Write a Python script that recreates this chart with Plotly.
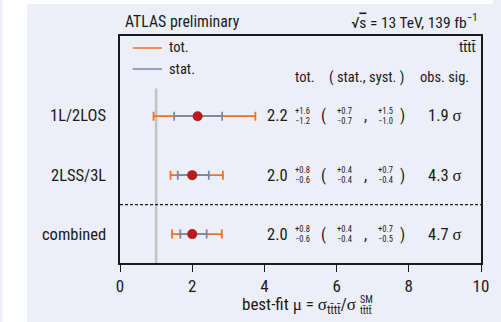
import plotly.graph_objects as go

# ---------------- data ----------------
channels = ["combined", "2LSS/3L", "1L/2LOS"]
mu = [2.0, 2.0, 2.15]
tot_lo = [0.56, 0.6, 1.22]
tot_hi = [0.82, 0.85, 1.6]
stat_lo = [0.33, 0.4, 0.65]
stat_hi = [0.4, 0.46, 0.68]
lbl_mu = ["2.0", "2.0", "2.2"]
lbl_tot = [("+0.8", "−0.6"), ("+0.8", "−0.6"), ("+1.6", "−1.2")]
lbl_stat = [("+0.4", "−0.4"), ("+0.4", "−0.4"), ("+0.7", "−0.7")]
lbl_syst = [("+0.7", "−0.5"), ("+0.7", "−0.4"), ("+1.5", "−1.0")]
lbl_sig = ["4.7", "4.3", "1.9"]
x_ticks = [0, 2, 4, 6, 8, 10]
sm_value = 1.0

# ---------------- style ----------------
W, H = 501, 322
L, R, T, B = 120, 12, 36, 59
PW, PH = W - L - R, H - T - B
BG = "#eceff8"
ORANGE = "#f2711c"
STATC = "#7787a6"
DOT = "#b71c1c"
INK = "#1a1a1a"
FONT = "Liberation Sans Narrow, Roboto Condensed, Roboto, sans-serif"
SERIF = "Liberation Serif, DejaVu Serif, serif"


def px(x):
    return (x - L) / PW


def py(y):
    return (H - B - y) / PH


ypos = list(range(len(channels)))

fig = go.Figure()
fig.add_trace(go.Scatter(
    x=mu, y=ypos, mode="markers",
    marker=dict(size=1, color="rgba(0,0,0,0)"),
    error_x=dict(type="data", symmetric=False, array=tot_hi, arrayminus=tot_lo,
                 color=ORANGE, thickness=1.8, width=4.5),
    hoverinfo="skip", showlegend=False))
fig.add_trace(go.Scatter(
    x=mu, y=ypos, mode="markers",
    marker=dict(size=10, color=DOT),
    error_x=dict(type="data", symmetric=False, array=stat_hi, arrayminus=stat_lo,
                 color=STATC, thickness=1.8, width=4.5),
    hoverinfo="skip", showlegend=False))

shapes = []
# SM line
shapes.append(dict(type="line", xref="x", yref="y", x0=sm_value, x1=sm_value,
                   y0=-0.49, y1=2.47, line=dict(color="#c3c3c6", width=2.5), layer="below"))
# dashed separator
shapes.append(dict(type="line", xref="paper", yref="y", x0=0, x1=1, y0=0.5, y1=0.5,
                   line=dict(color=INK, width=1.2, dash="3px,2px")))
# legend lines
shapes.append(dict(type="line", xref="paper", yref="paper", x0=px(133), x1=px(163),
                   y0=py(48), y1=py(48), line=dict(color=ORANGE, width=1.5)))
shapes.append(dict(type="line", xref="paper", yref="paper", x0=px(133), x1=px(163),
                   y0=py(69), y1=py(69), line=dict(color=STATC, width=1.5)))
# white page margins around the panel
shapes.append(dict(type="rect", xref="paper", yref="paper", x0=px(0), x1=px(25),
                   y0=py(H), y1=py(0), fillcolor="white", line=dict(width=0), layer="below"))
shapes.append(dict(type="rect", xref="paper", yref="paper", x0=px(0), x1=px(W),
                   y0=py(4), y1=py(0), fillcolor="white", line=dict(width=0), layer="below"))

ann = []


def text(x, y, s, size=16, xa="center", family=FONT, color=INK):
    ann.append(dict(xref="paper", yref="paper", x=px(x), y=py(y), text=s, showarrow=False,
                    xanchor=xa, yanchor="middle", font=dict(family=family, size=size, color=color)))


def stack(x, y, top, bot, size=8.5):
    text(x, y - 5, top, size=size)
    text(x, y + 5, bot, size=size)


text(123, 22, "ATLAS preliminary", 15.8, "left")
text(488, 22, "√<span style='text-decoration:overline'>s</span> = 13 TeV, 139 fb<sup>−1</sup>", 15.5, "right")
text(486, 47, "tt̄tt̄", 14.5, "right")
text(168, 48, "tot.", 14.5, "left")
text(168, 69, "stat.", 14.5, "left")
text(309, 77, "tot.", 14.5)
text(372, 77, "( stat., syst. )", 14.5)
text(452, 77, "obs. sig.", 14.5)

row_px = {0: 234, 1: 175, 2: 116}
for i, ch in enumerate(channels):
    y = row_px[i]
    text(108, y, ch, 16.5, "right")
    text(294, y, lbl_mu[i], 16.5, "right")
    stack(307, y, *lbl_tot[i])
    text(328, y, "(", 16)
    stack(349, y, *lbl_stat[i])
    text(371, y, ",", 16)
    stack(391, y, *lbl_syst[i])
    text(409, y, ")", 16)
    text(452, y, lbl_sig[i] + " <span style='font-family:Liberation Serif'>σ</span>", 16.5)

# x-axis title
title_main = ("best-fit <span style='font-family:Liberation Serif'>μ</span> = "
              "<span style='font-family:Liberation Serif'>σ</span><sub>tt̄tt̄</sub>/"
              "<span style='font-family:Liberation Serif'>σ</span>")
text(363, 305, title_main, 17, "right")
text(363, 299, "SM", 10, "left")
text(363, 310, "tt̄tt̄", 10, "left")

fig.update_layout(
    width=W, height=H,
    margin=dict(l=L, r=R, t=T, b=B, pad=0),
    paper_bgcolor=BG, plot_bgcolor=BG,
    shapes=shapes, annotations=ann,
    xaxis=dict(range=[0, 10], tickvals=x_ticks, ticktext=[str(v) for v in x_ticks],
               showgrid=False, zeroline=False, showline=True, linecolor=INK, linewidth=1.5,
               mirror=True, ticks="outside", ticklen=7, tickwidth=1.3, tickcolor=INK,
               tickfont=dict(family=FONT, size=17, color=INK)),
    yaxis=dict(range=[-0.49, 3.36], showticklabels=False, showgrid=False, zeroline=False,
               showline=True, linecolor=INK, linewidth=1.5, mirror=True, ticks=""),
)

fig.write_html("out.html", config={"displayModeBar": False},
               post_script="document.body.style.margin='0';")
